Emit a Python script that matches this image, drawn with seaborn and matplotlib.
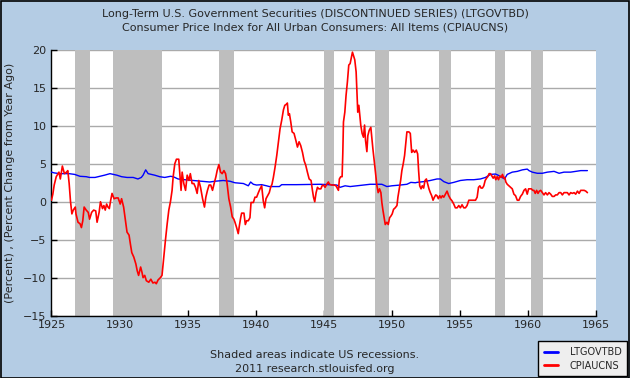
import numpy as np
import pandas as pd
import matplotlib
matplotlib.use("Agg")
import matplotlib.pyplot as plt
import seaborn as sns

# ---------------------------------------------------------------
#  data (decimal years, percent)
# ---------------------------------------------------------------
gov_year = [1925.0, 1925.2, 1925.6, 1925.95, 1926.3, 1926.7, 1927.1, 1927.55, 1927.8,
            1928.2, 1928.55, 1928.9, 1929.3, 1929.55, 1929.8, 1930.15, 1930.55, 1931.0,
            1931.35, 1931.6, 1931.73, 1931.92, 1932.1, 1932.34, 1932.58, 1932.95, 1933.32,
            1933.74, 1933.94, 1934.3, 1934.8, 1935.4, 1936.02, 1936.63, 1937.0, 1937.62,
            1938.11, 1938.48, 1939.1, 1939.46, 1939.63, 1939.83, 1940.07, 1940.44, 1940.8,
            1941.0, 1941.3, 1941.74, 1941.91, 1943.0, 1944.73, 1945.96, 1946.2, 1946.57,
            1946.94, 1947.43, 1947.92, 1948.41, 1949.27, 1949.64, 1950.0, 1950.62, 1951.11,
            1951.4, 1951.73, 1951.85, 1952.34, 1952.83, 1953.32, 1953.57, 1953.82, 1954.18,
            1954.55, 1955.04, 1955.53, 1956.02, 1956.51, 1956.88, 1957.25, 1957.62, 1957.86,
            1958.1, 1958.28, 1958.48, 1958.85, 1959.22, 1959.59, 1959.95, 1960.08, 1960.32,
            1960.69, 1961.06, 1961.43, 1961.92, 1962.29, 1962.65, 1963.14, 1963.51, 1963.88,
            1964.37]
gov_value = [3.9, 3.8, 3.7, 3.7, 3.7, 3.6, 3.35, 3.3, 3.2,
             3.2, 3.35, 3.5, 3.7, 3.6, 3.5, 3.3, 3.2, 3.2,
             3.0, 3.2, 3.5, 4.2, 3.7, 3.6, 3.5, 3.3, 3.2,
             3.35, 3.3, 3.0, 2.9, 2.8, 2.7, 2.6, 2.7, 2.8,
             2.7, 2.5, 2.4, 2.1, 2.6, 2.3, 2.2, 2.25, 2.1,
             2.0, 2.0, 2.0, 2.25, 2.25, 2.3, 2.2, 1.9, 2.1,
             2.0, 2.1, 2.2, 2.3, 2.3, 2.0, 2.1, 2.2, 2.3,
             2.55, 2.5, 2.55, 2.65, 2.8, 3.0, 3.0, 2.65, 2.4,
             2.55, 2.8, 2.9, 2.9, 3.0, 3.2, 3.6, 3.65, 3.45,
             3.2, 3.0, 3.6, 3.9, 4.0, 4.2, 4.3, 4.1, 3.9,
             3.75, 3.75, 3.9, 4.0, 3.75, 3.9, 3.9, 4.0, 4.1,
             4.1]

cpi_year = [1925.0, 1925.1, 1925.2, 1925.35, 1925.55, 1925.65, 1925.8, 1925.95, 1926.1,
            1926.2, 1926.3, 1926.4, 1926.5, 1926.6, 1926.75, 1926.8, 1926.95, 1927.1,
            1927.2, 1927.3, 1927.4, 1927.55, 1927.7, 1927.8, 1927.95, 1928.1, 1928.25,
            1928.35, 1928.5, 1928.6, 1928.75, 1928.85, 1928.95, 1929.05, 1929.15, 1929.25,
            1929.35, 1929.45, 1929.6, 1929.75, 1929.9, 1930.05, 1930.15, 1930.3, 1930.4,
            1930.55, 1930.7, 1930.8, 1930.9, 1931.05, 1931.2, 1931.3, 1931.4, 1931.55,
            1931.65, 1931.73, 1931.85, 1931.97, 1932.15, 1932.3, 1932.45, 1932.6, 1932.7,
            1932.83, 1933.0, 1933.12, 1933.25, 1933.37, 1933.5, 1933.62, 1933.74, 1933.86,
            1933.94, 1934.06, 1934.18, 1934.35, 1934.43, 1934.52, 1934.6, 1934.72, 1934.85,
            1934.97, 1935.1, 1935.2, 1935.33, 1935.46, 1935.58, 1935.7, 1935.82, 1935.95,
            1936.1, 1936.24, 1936.34, 1936.46, 1936.58, 1936.7, 1936.83, 1936.95, 1937.08,
            1937.17, 1937.3, 1937.42, 1937.54, 1937.67, 1937.79, 1937.9, 1938.03, 1938.16,
            1938.28, 1938.4, 1938.48, 1938.6, 1938.72, 1938.8, 1938.9, 1938.97, 1939.14,
            1939.24, 1939.34, 1939.46, 1939.58, 1939.66, 1939.83, 1939.95, 1940.07, 1940.2,
            1940.32, 1940.44, 1940.56, 1940.66, 1940.76, 1940.88, 1941.0, 1941.1, 1941.2,
            1941.3, 1941.42, 1941.55, 1941.67, 1941.79, 1941.91, 1942.04, 1942.14, 1942.23,
            1942.33, 1942.4, 1942.48, 1942.58, 1942.68, 1942.82, 1942.95, 1943.07, 1943.19,
            1943.31, 1943.44, 1943.56, 1943.68, 1943.8, 1943.93, 1944.07, 1944.17, 1944.25,
            1944.34, 1944.44, 1944.54, 1944.64, 1944.79, 1944.88, 1944.98, 1945.1, 1945.22,
            1945.34, 1945.42, 1945.59, 1945.76, 1945.9, 1946.08, 1946.15, 1946.25, 1946.35,
            1946.4, 1946.45, 1946.55, 1946.64, 1946.74, 1946.84, 1946.94, 1947.04, 1947.11,
            1947.18, 1947.28, 1947.38, 1947.43, 1947.5, 1947.58, 1947.65, 1947.72, 1947.82,
            1947.92, 1948.0, 1948.07, 1948.17, 1948.24, 1948.34, 1948.46, 1948.53, 1948.61,
            1948.71, 1948.8, 1948.9, 1949.0, 1949.1, 1949.2, 1949.27, 1949.34, 1949.44,
            1949.52, 1949.64, 1949.74, 1949.84, 1949.93, 1950.03, 1950.13, 1950.25, 1950.38,
            1950.45, 1950.55, 1950.65, 1950.74, 1950.84, 1950.94, 1951.01, 1951.11, 1951.26,
            1951.36, 1951.46, 1951.56, 1951.68, 1951.8, 1951.9, 1951.97, 1952.05, 1952.15,
            1952.24, 1952.34, 1952.44, 1952.54, 1952.64, 1952.73, 1952.83, 1952.93, 1953.03,
            1953.13, 1953.23, 1953.32, 1953.42, 1953.52, 1953.62, 1953.72, 1953.82, 1953.94,
            1954.06, 1954.18, 1954.3, 1954.43, 1954.55, 1954.67, 1954.8, 1954.92, 1955.04,
            1955.16, 1955.29, 1955.41, 1955.53, 1955.66, 1955.78, 1955.97, 1956.15, 1956.27,
            1956.37, 1956.47, 1956.56, 1956.66, 1956.76, 1956.86, 1956.96, 1957.05, 1957.15,
            1957.25, 1957.35, 1957.45, 1957.55, 1957.64, 1957.74, 1957.84, 1957.94, 1958.04,
            1958.13, 1958.23, 1958.3, 1958.38, 1958.48, 1958.6, 1958.73, 1958.85, 1958.97,
            1959.09, 1959.22, 1959.34, 1959.46, 1959.59, 1959.71, 1959.83, 1959.95, 1960.05,
            1960.15, 1960.25, 1960.35, 1960.44, 1960.54, 1960.64, 1960.74, 1960.84, 1960.94,
            1961.06, 1961.18, 1961.3, 1961.43, 1961.55, 1961.67, 1961.79, 1961.92, 1962.04,
            1962.16, 1962.29, 1962.41, 1962.53, 1962.65, 1962.78, 1962.9, 1963.02, 1963.14,
            1963.27, 1963.39, 1963.51, 1963.64, 1963.76, 1963.88, 1964.0, 1964.13, 1964.25,
            1964.37]
cpi_value = [0.2, 1.0, 2.2, 3.3, 3.9, 3.0, 4.7, 3.7, 3.9,
             4.1, 2.4, 0.0, -1.6, -1.1, -0.7, -1.6, -2.7, -2.9,
             -3.4, -2.5, -0.7, -1.1, -1.4, -2.3, -1.4, -1.1, -1.2,
             -2.7, -1.4, 0.0, -0.9, -0.5, -1.1, -0.3, -0.7, -0.9,
             0.2, 1.1, 0.4, 0.5, 0.5, -0.3, 0.4, -0.7, -2.0,
             -4.0, -4.4, -5.6, -6.7, -7.3, -8.2, -9.1, -9.7, -8.6,
             -9.3, -10.0, -9.7, -10.4, -10.6, -10.2, -10.7, -10.6, -10.8,
             -10.3, -10.0, -9.7, -7.3, -5.1, -2.9, -1.1, 0.0, 1.5,
             3.3, 5.0, 5.6, 5.6, 3.7, 1.5, 3.9, 2.4, 1.5,
             3.5, 2.8, 3.7, 2.4, 2.4, 1.9, 1.1, 2.8, 1.9,
             0.4, -0.7, 0.6, 1.5, 2.2, 2.2, 1.5, 2.4, 3.3,
             4.1, 4.9, 3.9, 3.7, 4.1, 3.7, 2.4, 0.4, -0.7,
             -2.0, -2.3, -2.7, -3.4, -4.2, -3.2, -2.1, -1.5, -1.5,
             -3.0, -2.5, -2.5, -2.1, -0.1, -0.1, 0.6, 0.6, 1.2,
             1.7, 2.1, 0.1, -0.8, 0.4, 0.8, 1.2, 1.9, 2.3,
             3.2, 4.5, 6.1, 7.9, 9.6, 10.7, 12.1, 12.7, 12.8,
             13.0, 11.4, 11.6, 10.5, 9.2, 9.0, 8.1, 7.2, 7.9,
             7.4, 6.5, 5.4, 4.8, 3.9, 3.0, 2.8, 1.5, 0.6,
             0.0, 1.2, 1.9, 1.7, 1.7, 2.1, 2.2, 1.9, 2.3,
             2.6, 2.3, 2.2, 2.2, 2.1, 1.5, 3.0, 3.3, 3.3,
             6.3, 10.5, 11.8, 14.0, 15.8, 18.0, 18.2, 19.1, 19.7,
             19.3, 18.7, 17.1, 14.9, 11.8, 12.7, 11.4, 10.1, 9.0,
             8.5, 10.1, 8.1, 6.6, 8.7, 9.4, 9.8, 8.5, 7.0,
             5.4, 3.9, 2.2, 1.2, 1.7, 1.2, -0.1, -1.0, -2.1,
             -3.0, -2.7, -3.0, -2.1, -1.9, -1.6, -1.0, -0.8, -0.5,
             0.6, 1.7, 2.8, 4.1, 5.0, 6.1, 7.4, 9.2, 9.2,
             9.0, 6.5, 6.8, 6.5, 6.8, 6.3, 4.1, 2.1, 1.7,
             2.1, 1.8, 2.8, 3.0, 2.3, 1.7, 1.2, 0.8, 0.2,
             0.6, 0.9, 0.8, 0.4, 0.8, 0.5, 0.8, 0.6, 1.0,
             1.4, 0.8, 0.4, 0.1, -0.3, -0.8, -0.8, -0.5, -0.8,
             -0.4, -0.8, -0.8, -0.5, 0.2, 0.2, 0.2, 0.2, 0.6,
             1.9, 2.1, 1.8, 1.8, 2.1, 2.8, 3.1, 3.3, 3.7,
             3.7, 3.4, 3.1, 3.4, 2.9, 3.3, 2.9, 3.4, 3.2,
             3.6, 3.1, 3.2, 2.6, 2.3, 2.1, 1.9, 1.7, 1.0,
             0.8, 0.2, 0.2, 0.7, 1.0, 1.5, 1.7, 1.0, 1.7,
             1.7, 1.7, 1.5, 1.5, 1.1, 1.5, 1.1, 1.4, 1.5,
             1.2, 0.9, 1.2, 0.9, 1.2, 1.0, 0.7, 0.7, 0.9,
             0.9, 1.2, 1.2, 0.9, 1.2, 1.2, 1.2, 0.9, 1.2,
             1.1, 1.2, 1.0, 1.4, 1.1, 1.5, 1.5, 1.5, 1.4,
             1.2]

rec_start = [1926.75, 1929.55, 1937.33, 1945.05, 1948.8, 1953.5, 1957.58, 1960.22]
rec_end = [1927.85, 1933.15, 1938.42, 1945.77, 1949.8, 1954.36, 1958.28, 1961.13]

x_ticks = [1925, 1930, 1935, 1940, 1945, 1950, 1955, 1960, 1965]
y_ticks = [-15, -10, -5, 0, 5, 10, 15, 20]

gov = pd.DataFrame({"year": gov_year, "value": gov_value})
cpi = pd.DataFrame({"year": cpi_year, "value": cpi_value})

BG = "#B4CCE4"

sns.set_style("white")
plt.rcParams["font.family"] = ["DejaVu Sans"]

fig = plt.figure(figsize=(6.3, 3.78), dpi=100, facecolor=BG)
ax = fig.add_axes([0.0817, 0.165, 0.8643, 0.703])
ax.set_facecolor("white")

# recession bands
for a, b in zip(rec_start, rec_end):
    ax.axvspan(a, b, color="#BEBEBE", lw=0, zorder=1)

for yv in y_ticks:
    ax.axhline(yv, color="#AAAAAA", lw=1.0, zorder=0.5)

sns.lineplot(data=gov, x="year", y="value", ax=ax, color="#0000FF", lw=1.0,
             estimator=None, sort=False, label="LTGOVTBD", zorder=3)
sns.lineplot(data=cpi, x="year", y="value", ax=ax, color="#FF0000", lw=1.2,
             estimator=None, sort=False, label="CPIAUCNS", zorder=4)

ax.set_xlim(1925, 1965)
ax.set_ylim(-15, 20)
ax.set_xticks(x_ticks)
ax.set_yticks(y_ticks)
ax.tick_params(direction="in", length=4, width=1, labelsize=8, color="black",
               bottom=True, left=True)
ax.set_xlabel("")
ax.set_ylabel("(Percent) , (Percent Change from Year Ago)", fontsize=8, labelpad=6)
for s in ["top", "right"]:
    ax.spines[s].set_visible(False)
for s in ["left", "bottom"]:
    ax.spines[s].set_color("black")
    ax.spines[s].set_linewidth(1.0)

ax.get_legend().remove()
h, l = ax.get_legend_handles_labels()
leg = fig.legend(h, l, loc="lower right", bbox_to_anchor=(0.996, 0.004),
                 borderaxespad=0, fontsize=7, handlelength=1.5, frameon=True,
                 fancybox=False, borderpad=0.6, labelspacing=0.35, handletextpad=1.2)
leg.get_frame().set_edgecolor("black")
leg.get_frame().set_facecolor("#EEEEEE")
leg.get_frame().set_alpha(1)
for ln in leg.get_lines():
    ln.set_linewidth(2.0)

fig.text(0.5, 0.963, "Long-Term U.S. Government Securities (DISCONTINUED SERIES) (LTGOVTBD)",
         ha="center", va="center", fontsize=8)
fig.text(0.5, 0.926, "Consumer Price Index for All Urban Consumers: All Items (CPIAUCNS)",
         ha="center", va="center", fontsize=8)
fig.text(0.5, 0.06, "Shaded areas indicate US recessions.", ha="center", va="center", fontsize=8)
fig.text(0.5, 0.023, "2011 research.stlouisfed.org", ha="center", va="center", fontsize=8)

border = plt.Rectangle((0.001, 0.001), 0.997, 0.997, transform=fig.transFigure,
                       fill=False, edgecolor="black", lw=1.2)
fig.patches.append(border)

fig.savefig("out.png", dpi=100, facecolor=BG)
